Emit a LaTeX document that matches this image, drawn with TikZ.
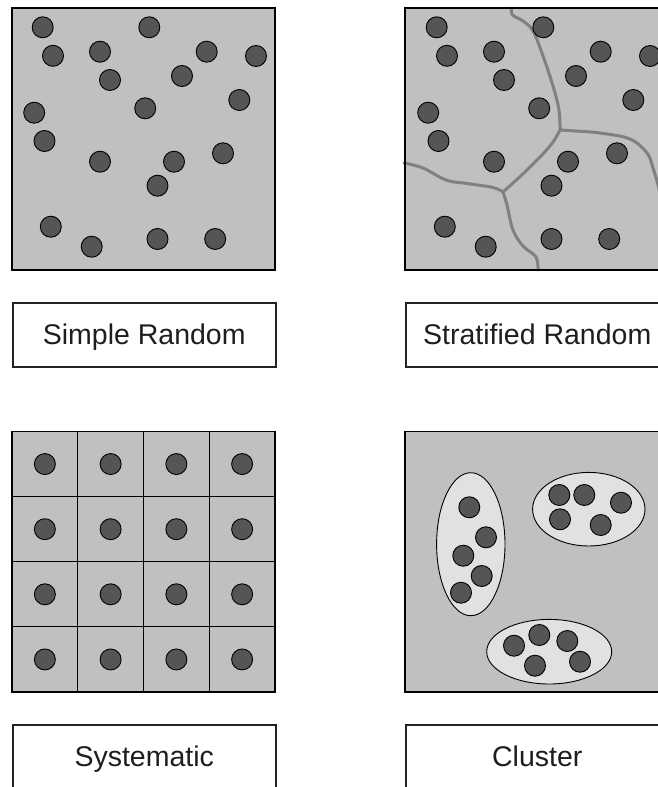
\documentclass[tikz,border=0pt]{standalone}
\usepackage{fontspec}
\setmainfont{Liberation Sans}
\definecolor{panelgray}{RGB}{192,192,192}
\definecolor{dotgray}{RGB}{85,85,85}
\definecolor{ellgray}{RGB}{225,225,225}
\definecolor{linegray}{RGB}{128,128,128}
\definecolor{boxgray}{RGB}{35,35,35}
\definecolor{textgray}{RGB}{30,30,30}
\begin{document}
\begin{tikzpicture}[x=1pt,y=-1pt,
  panelfill/.style={fill=panelgray},
  panelborder/.style={draw=black, line width=1.4pt},
  dot/.style={draw=black, line width=0.9pt, fill=dotgray},
  labelbox/.style={draw=boxgray, line width=1.5pt, minimum width=263pt, minimum height=64pt,
    inner sep=0pt, text height=20.4pt, text depth=0pt, anchor=north west,
    font=\fontsize{28.5}{34}\selectfont, text=textgray},
  stratum/.style={draw=linegray, line width=3pt, line cap=round, line join=round},
  clusterset/.style={draw=black, line width=0.9pt, fill=ellgray},
  gridline/.style={draw=black, line width=1.2pt}]
\useasboundingbox (0,0) rectangle (658,787);
\clip (0,0) rectangle (658,787);

% ---------- Simple Random ----------
\fill[panelfill] (12,8) rectangle (275,270);
\foreach \px/\py in {42.7/27.3,149.3/27.3,53/55.8,100/51.7,206.7/51.7,256/56,110/80,182/76,239.3/100,
  34.2/112.7,145.2/108.3,44.5/141,100/161.7,174/161.7,223/153.3,157.5/185.7,50.8/226.7,91.7/246.7,157.5/239,215.2/239}
  \draw[dot] (\px,\py) circle[radius=10.5pt];
\draw[panelborder] (12,8) rectangle (275,270);
\node[labelbox] (lsimple) at (12,302) {Simple Random};

% ---------- Stratified Random ----------
\fill[panelfill] (405,8) rectangle (668,270);
\draw[stratum] plot[smooth, tension=0.6] coordinates {(511.7,8) (512.5,15) (523,21) (533,31) (543,56) (553,86) (559,110) (560,130)};
\draw[stratum] plot[smooth, tension=0.6] coordinates {(560,130) (575,131) (600,133) (630,139) (647,153) (653,168) (658,185) (661,200)};
\draw[stratum] plot[smooth, tension=0.6] coordinates {(560,130) (550,146) (527,170) (503,192)};
\draw[stratum] plot[smooth, tension=0.6] coordinates {(404,163) (423,168) (446,180) (467,183.5) (493,187.5) (503,192)};
\draw[stratum] plot[smooth, tension=0.6] coordinates {(503,192) (507,205) (513,230) (523,246) (536,257) (538,270)};
\begin{scope}[shift={(394,0)}]
\foreach \px/\py in {42.7/27.3,149.3/27.3,53/55.8,100/51.7,206.7/51.7,256/56,110/80,182/76,239.3/100,
  34.2/112.7,145.2/108.3,44.5/141,100/161.7,174/161.7,223/153.3,157.5/185.7,50.8/226.7,91.7/246.7,157.5/239,215.2/239}
  \draw[dot] (\px,\py) circle[radius=10.5pt];
\end{scope}
\draw[panelborder] (405,8) rectangle (668,270);
\node[labelbox] (lstrat) at (405,302) {Stratified Random};

% ---------- Systematic ----------
\fill[panelfill] (12,431.5) rectangle (275,692);
\foreach \k in {1,2,3} {
  \draw[gridline] ({12+65.75*\k},431.5) -- ({12+65.75*\k},692);
  \draw[gridline] (12,{431.5+65.125*\k}) -- (275,{431.5+65.125*\k});
}
\foreach \i in {0,1,2,3}
  \foreach \j in {0,1,2,3}
    \draw[dot] ({12+65.75*(\i+0.5)},{431.5+65.125*(\j+0.5)}) circle[radius=10.5pt];
\draw[panelborder] (12,431.5) rectangle (275,692);
\node[labelbox] (lsys) at (12,724) {Systematic};

% ---------- Cluster ----------
\fill[panelfill] (405,431.5) rectangle (668,692);
\draw[clusterset] (470.8,544.2) ellipse[x radius=34.2pt, y radius=71.5pt];
\draw[clusterset] (588.8,509.2) ellipse[x radius=56.2pt, y radius=36.8pt];
\draw[clusterset] (549.2,651.7) ellipse[x radius=62.5pt, y radius=32.3pt];
\foreach \px/\py in {469.3/507.3,486/537.3,463.3/555.7,481.7/576,461/592.7,
  559.3/495,584.3/495,621/502.7,560/519.3,600.7/525,
  514/645.7,539.3/635,567.3/641,535/665.7,580/661.7}
  \draw[dot] (\px,\py) circle[radius=10.5pt];
\draw[panelborder] (405,431.5) rectangle (668,692);
\node[labelbox] (lclus) at (405,724) {Cluster};
\end{tikzpicture}
\end{document}
